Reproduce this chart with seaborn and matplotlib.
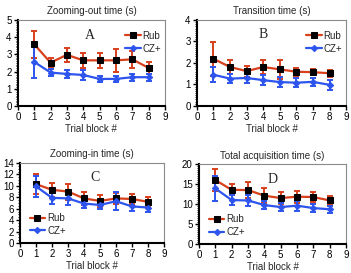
import numpy as np
import pandas as pd
import matplotlib
matplotlib.use("Agg")
import matplotlib.pyplot as plt
from matplotlib.ticker import MultipleLocator
import seaborn as sns

blocks = [1, 2, 3, 4, 5, 6, 7, 8]

# A: Zooming-out time
a_rub = [3.58, 2.52, 2.97, 2.65, 2.65, 2.65, 2.71, 2.21]
a_rub_err = [0.80, 0.25, 0.40, 0.45, 0.42, 0.65, 0.50, 0.35]
a_cz = [2.56, 1.94, 1.86, 1.80, 1.57, 1.57, 1.67, 1.67]
a_cz_err = [0.95, 0.20, 0.25, 0.30, 0.15, 0.15, 0.20, 0.20]

# B: Transition time
b_rub = [2.19, 1.81, 1.62, 1.81, 1.70, 1.59, 1.57, 1.52]
b_rub_err = [0.78, 0.32, 0.26, 0.32, 0.44, 0.18, 0.14, 0.17]
b_cz = [1.45, 1.27, 1.30, 1.20, 1.11, 1.08, 1.12, 0.98]
b_cz_err = [0.36, 0.22, 0.22, 0.22, 0.22, 0.20, 0.20, 0.22]

# C: Zooming-in time
c_rub = [10.3, 9.3, 9.0, 7.8, 7.35, 7.8, 7.7, 7.2]
c_rub_err = [1.7, 1.2, 1.4, 1.2, 1.1, 0.95, 0.9, 0.9]
c_cz = [9.9, 7.9, 7.8, 6.9, 6.65, 7.3, 6.4, 6.2]
c_cz_err = [1.9, 1.1, 1.1, 0.8, 0.7, 1.6, 0.8, 0.85]

# D: Total acquisition time
d_rub = [16.0, 13.55, 13.5, 12.1, 11.5, 11.85, 11.75, 10.9]
d_rub_err = [2.8, 1.4, 1.9, 1.8, 1.6, 1.5, 1.3, 1.1]
d_cz = [13.9, 11.0, 10.9, 9.75, 9.25, 9.6, 9.0, 8.7]
d_cz_err = [3.1, 1.3, 1.4, 1.1, 1.1, 1.25, 1.0, 0.9]

titles = ["Zooming-out time (s)", "Transition time (s)",
          "Zooming-in time (s)", "Total acquisition time (s)"]
letters = ["A", "B", "C", "D"]
series_names = ["Rub", "CZ+"]
ylims = [5, 4, 14, 20]
ysteps = [1, 1, 2, 5]
yminor = [0.1, 0.1, 0.5, 0.5]
xticks = list(range(0, 10))

sns.set_theme(style="ticks")
plt.rcParams['font.family'] = ['Liberation Sans', 'DejaVu Sans']

RED = "#d8401c"
BLUE = "#2d55ee"

fig = plt.figure(figsize=(3.51, 2.73), dpi=100)
positions = [
    [0.051, 0.612, 0.419, 0.315],
    [0.561, 0.612, 0.425, 0.315],
    [0.057, 0.110, 0.410, 0.293],
    [0.567, 0.106, 0.419, 0.293],
]
data = [
    (a_rub, a_rub_err, a_cz, a_cz_err),
    (b_rub, b_rub_err, b_cz, b_cz_err),
    (c_rub, c_rub_err, c_cz, c_cz_err),
    (d_rub, d_rub_err, d_cz, d_cz_err),
]
letter_pos = [(4.4, 4.1), (4.0, 3.3), (4.7, 11.4), (4.5, 16.2)]
legend_locs = [
    dict(loc="upper right", bbox_to_anchor=(1.0, 0.92)),
    dict(loc="upper right", bbox_to_anchor=(1.0, 0.92)),
    dict(loc="lower left", bbox_to_anchor=(0.04, 0.04)),
    dict(loc="lower left", bbox_to_anchor=(0.04, 0.04)),
]

for i in range(4):
    ax = fig.add_axes(positions[i])
    rub, rub_err, cz, cz_err = data[i]
    df = pd.DataFrame({
        "block": blocks * 2,
        "value": rub + cz,
        "series": [series_names[0]] * 8 + [series_names[1]] * 8,
    })
    ax.errorbar(blocks, rub, yerr=rub_err, fmt="none", ecolor=RED,
                elinewidth=1.4, capsize=2, capthick=1.4, zorder=2)
    ax.errorbar(blocks, cz, yerr=cz_err, fmt="none", ecolor=BLUE,
                elinewidth=1.4, capsize=2, capthick=1.4, zorder=2)
    sns.lineplot(data=df, x="block", y="value", hue="series", style="series",
                 palette={"Rub": RED, "CZ+": BLUE},
                 markers={"Rub": "s", "CZ+": "D"}, dashes=False,
                 linewidth=1.6, markersize=4, ax=ax, zorder=3,
                 legend=True)
    for line in ax.get_lines():
        yd = np.asarray(line.get_ydata(), dtype=float)
        if len(yd) == 8 and np.allclose(yd, rub):
            line.set_markerfacecolor("black")
            line.set_markeredgecolor("black")
        elif len(yd) == 8 and np.allclose(yd, cz):
            line.set_markersize(3.2)
            line.set_markeredgecolor(BLUE)
    ax.set_xlim(0, 9)
    ax.set_ylim(0, ylims[i])
    ax.set_xticks(xticks)
    ax.yaxis.set_major_locator(MultipleLocator(ysteps[i]))
    ax.yaxis.set_minor_locator(MultipleLocator(yminor[i]))
    ax.tick_params(axis="both", labelsize=7, pad=1.5, width=1.0, length=3,
                   colors="black")
    ax.tick_params(axis="y", which="minor", length=1.8, width=0.7)
    ax.set_xlabel("Trial block #", fontsize=7, labelpad=1)
    ax.set_ylabel("")
    ax.set_title(titles[i], fontsize=7, pad=4)
    for s in ["left", "bottom"]:
        ax.spines[s].set_color("black")
        ax.spines[s].set_linewidth(1.5)
    for s in ["top", "right"]:
        ax.spines[s].set_color("#8a8a8a")
        ax.spines[s].set_linewidth(0.8)
    ax.text(letter_pos[i][0], letter_pos[i][1], letters[i], fontsize=10,
            family=["Liberation Serif", "DejaVu Serif"], ha="center", va="center")
    handles, labels = ax.get_legend_handles_labels()
    leg = ax.legend(handles=handles, labels=labels, frameon=False, fontsize=7,
                    handlelength=1.6, handletextpad=0.2, labelspacing=0.3,
                    borderpad=0.2, borderaxespad=0.2, **legend_locs[i])
    for h in leg.legend_handles:
        if h.get_label() == "Rub":
            h.set_markerfacecolor("black")
            h.set_markeredgecolor("black")
        else:
            h.set_markersize(3.2)
            h.set_markeredgecolor(BLUE)

fig.savefig("out.png", dpi=100)
